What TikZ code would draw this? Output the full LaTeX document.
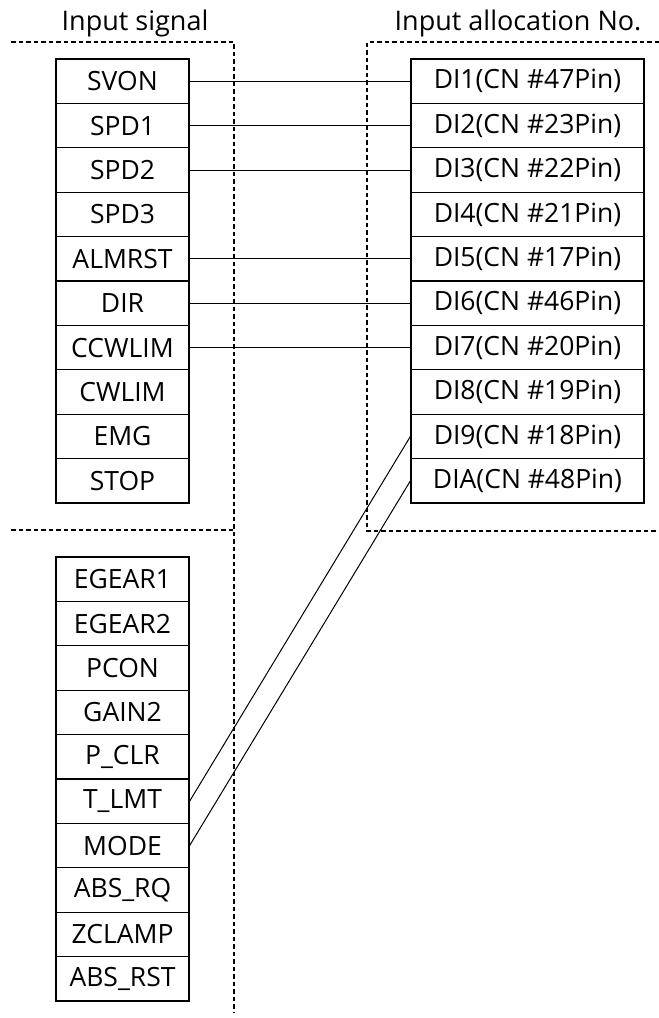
\documentclass[tikz,border=0pt]{standalone}
\usepackage{fontspec}
\setmainfont{Open Sans}
\begin{document}
\begin{tikzpicture}[x=1pt,y=1pt,
  sig/.style={draw,line width=1.2pt,rectangle,inner sep=0pt,minimum width=133pt,minimum height=44.4pt,font=\fontsize{26.5}{30}\selectfont},
  pin/.style={draw,line width=1.2pt,rectangle,inner sep=0pt,minimum width=233pt,minimum height=44.4pt,font=\fontsize{26.5}{30}\selectfont},
  title/.style={anchor=base,inner sep=0pt,font=\fontsize{27}{30}\selectfont},
  wire/.style={line width=1pt},
  grp/.style={dash pattern=on 4.5pt off 3pt,line width=1.1pt}]
\useasboundingbox (0,0) rectangle (659,-1018);
% titles
\node[title] (t1) at (135,-30) {Input signal};
\node[title] (t2) at (518,-30) {Input allocation No.};
% group frames
\coordinate (a1) at (11,-42);
\coordinate (a2) at (234,-42);
\coordinate (a3) at (234,-1012);
\coordinate (a4) at (11,-530);
\coordinate (a5) at (234,-530);
\draw[grp] (a1) -- (a2) -- (a3);
\draw[grp] (a4) -- (a5);
\coordinate (b1) at (659,-42);
\coordinate (b2) at (367,-42);
\coordinate (b3) at (367,-531);
\coordinate (b4) at (659,-531);
\draw[grp] (b1) -- (b2) -- (b3) -- (b4);
% left signals
\foreach \n/\t [count=\i from 0] in {svon/SVON,spd1/SPD1,spd2/SPD2,spd3/SPD3,almrst/ALMRST,dir/DIR,ccwlim/CCWLIM,cwlim/CWLIM,emg/EMG,stop/STOP}
  \node[sig] (\n) at (122.5,{-81.2-44.4*\i}) {\t};
\foreach \n/\t [count=\i from 0] in {eg1/EGEAR1,eg2/EGEAR2,pcon/PCON,gain2/GAIN2,pclr/P\_CLR,tlmt/T\_LMT,mode/MODE,absrq/ABS\_RQ,zclamp/ZCLAMP,absrst/ABS\_RST}
  \node[sig] (\n) at (122.5,{-579.2-44.4*\i}) {\t};
% right pins
\foreach \n/\t [count=\i from 0] in {d1/DI1(CN \#47Pin),d2/DI2(CN \#23Pin),d3/DI3(CN \#22Pin),d4/DI4(CN \#21Pin),d5/DI5(CN \#17Pin),d6/DI6(CN \#46Pin),d7/DI7(CN \#20Pin),d8/DI8(CN \#19Pin),d9/DI9(CN \#18Pin),da/DIA(CN \#48Pin)}
  \node[pin] (\n) at (527.5,{-81.2-44.4*\i}) {\t};
% connectors
\draw[wire] (svon.east) -- (d1.west);
\draw[wire] (spd1.east) -- (d2.west);
\draw[wire] (spd2.east) -- (d3.west);
\draw[wire] (almrst.east) -- (d5.west);
\draw[wire] (dir.east) -- (d6.west);
\draw[wire] (ccwlim.east) -- (d7.west);
\draw[wire] (tlmt.east) -- (d9.west);
\draw[wire] (mode.east) -- (da.west);
\end{tikzpicture}
\end{document}
